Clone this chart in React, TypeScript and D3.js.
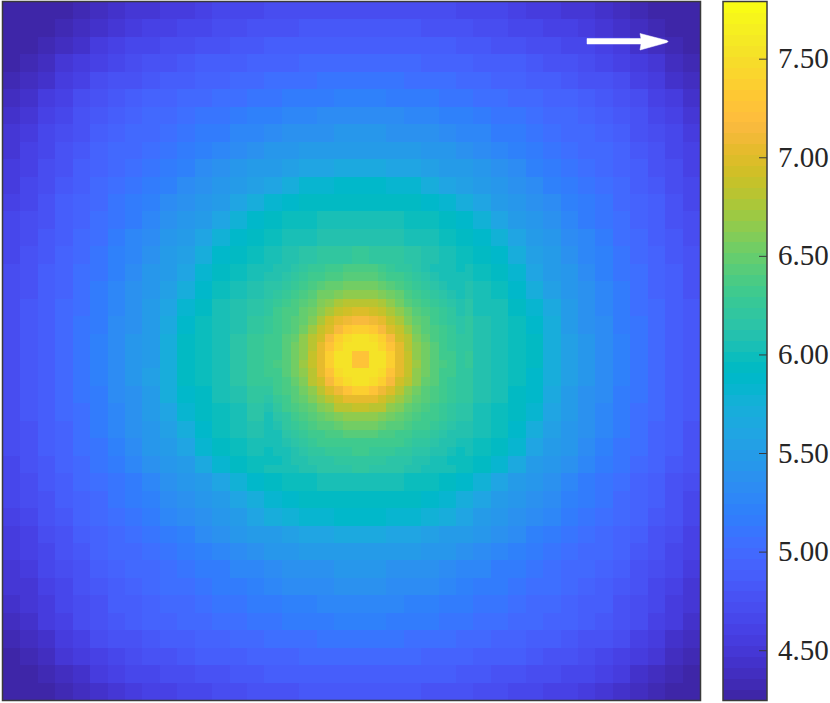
import { useEffect, useRef } from "react";
import * as d3 from "d3";

// whole field, 40 x 40 blocks, hundredths
const coarseRows = [
  [430,430,430,430,434,440,446,449,452,455,458,462,465,467,469,470,472,473,473,474,474,474,473,473,472,470,469,467,465,462,458,455,452,449,446,440,434,430,430,430],
  [430,430,430,433,440,446,451,455,459,462,466,469,471,474,476,478,479,481,481,482,482,482,481,481,479,478,476,474,471,469,466,462,459,455,451,446,440,433,430,430],
  [430,430,433,440,447,454,459,464,468,471,474,477,480,483,485,486,488,489,490,490,490,490,490,489,488,486,485,483,480,477,474,471,468,464,459,454,447,440,433,430],
  [430,433,440,448,455,461,468,472,476,480,483,487,489,491,493,495,496,498,499,500,500,500,499,498,496,495,493,491,489,487,483,480,476,472,468,461,455,448,440,433],
  [434,440,447,455,463,470,476,480,484,488,491,494,496,499,502,504,506,507,508,509,509,509,508,507,506,504,502,499,496,494,491,488,484,480,476,470,463,455,447,440],
  [440,446,454,461,470,477,483,487,492,495,498,501,505,507,510,513,516,517,519,520,520,520,519,517,516,513,510,507,505,501,498,495,492,487,483,477,470,461,454,446],
  [446,451,459,468,476,483,489,494,498,501,506,509,512,516,520,523,527,530,533,534,534,534,533,530,527,523,520,516,512,509,506,501,498,494,489,483,476,468,459,451],
  [449,455,464,472,480,487,494,498,502,507,511,515,519,525,530,535,537,540,540,542,542,542,540,540,537,535,530,525,519,515,511,507,502,498,494,487,480,472,464,455],
  [452,459,468,476,484,492,498,502,507,511,517,522,529,535,539,542,546,548,550,552,552,552,550,548,546,542,539,535,529,522,517,511,507,502,498,492,484,476,468,459],
  [455,462,471,480,488,495,501,507,511,517,523,532,537,542,547,551,555,558,563,567,568,567,563,558,555,551,547,542,537,532,523,517,511,507,501,495,488,480,471,462],
  [458,466,474,483,491,498,506,511,517,523,533,538,544,550,555,563,572,580,583,586,587,586,583,580,572,563,555,550,544,538,533,523,517,511,506,498,491,483,474,466],
  [462,469,477,487,494,501,509,515,522,532,538,545,552,558,572,582,589,592,594,595,596,595,594,592,589,582,572,558,552,545,538,532,522,515,509,501,494,487,477,469],
  [465,471,480,489,496,505,512,519,529,537,544,552,560,576,587,593,597,600,602,603,604,603,602,600,597,593,587,576,560,552,544,537,529,519,512,505,496,489,480,471],
  [467,474,483,491,499,507,516,525,535,542,550,558,576,588,594,599,603,607,610,612,613,612,610,607,603,599,594,588,576,558,550,542,535,525,516,507,499,491,483,474],
  [469,476,485,493,502,510,520,530,539,547,555,572,587,594,600,605,611,616,621,624,625,624,621,616,611,605,600,594,587,572,555,547,539,530,520,510,502,493,485,476],
  [470,478,486,495,504,513,523,535,542,551,563,582,593,599,605,612,620,628,634,638,640,638,634,628,620,612,605,599,593,582,563,551,542,535,523,513,504,495,486,478],
  [472,479,488,496,506,516,527,537,546,555,572,589,597,603,611,620,629,640,650,662,665,662,650,640,629,620,611,603,597,589,572,555,546,537,527,516,506,496,488,479],
  [473,481,489,498,507,517,530,540,548,558,585,595,602,610,618,628,640,659,677,689,695,689,677,659,640,628,616,607,602,595,585,565,548,540,530,517,507,498,489,481],
  [473,481,489,499,508,519,533,540,550,568,590,598,604,612,623,634,650,677,703,727,735,727,703,677,650,634,621,610,604,598,590,570,552,540,533,519,508,499,489,481],
  [474,482,490,500,509,520,534,542,552,572,592,600,605,614,626,638,662,689,727,741,745,741,727,689,662,638,624,612,605,600,592,574,555,542,534,520,509,500,490,482],
  [474,482,490,500,509,520,534,542,552,572,592,600,606,615,627,640,665,695,735,745,730,745,735,695,665,640,625,613,606,600,592,574,555,542,534,520,509,500,490,482],
  [474,482,490,500,509,520,534,543,553,574,592,600,605,614,626,638,662,689,727,741,745,741,727,689,662,638,624,612,605,600,590,572,554,542,534,520,509,500,490,482],
  [473,481,489,499,508,519,533,541,551,570,588,596,602,610,621,634,650,677,703,727,735,727,703,677,650,634,621,610,602,596,586,566,550,540,533,519,508,499,489,481],
  [473,481,489,498,507,517,530,540,549,562,583,594,600,607,616,628,640,659,677,689,695,689,677,659,640,628,616,607,600,592,580,558,548,540,530,517,507,498,489,481],
  [472,479,488,496,506,516,527,537,546,555,572,589,597,603,611,620,629,640,650,662,665,662,650,640,629,620,611,603,597,589,572,555,546,537,527,516,506,496,488,479],
  [470,478,486,495,504,513,523,535,542,551,563,582,593,599,605,612,620,628,634,638,640,638,634,628,620,612,605,599,593,582,563,551,542,535,523,513,504,495,486,478],
  [469,476,484,492,500,509,518,527,537,545,552,565,582,591,597,602,607,612,616,618,619,618,616,612,607,602,597,591,582,565,552,545,537,527,518,509,500,492,484,476],
  [467,474,482,490,497,505,512,519,529,537,544,552,560,576,587,593,597,600,602,603,604,603,602,600,597,593,587,576,560,552,544,537,529,519,512,505,496,489,480,471],
  [465,471,479,488,494,501,509,515,522,532,538,545,552,558,572,582,589,592,594,595,596,595,594,592,589,582,572,558,552,545,538,532,522,515,509,501,494,487,477,469],
  [462,468,476,485,492,499,507,512,519,526,535,540,546,552,560,570,578,582,585,588,588,587,585,582,578,570,560,552,546,540,535,526,519,512,507,499,492,484,475,467],
  [458,462,471,480,488,495,501,507,511,517,523,532,537,542,547,551,555,558,563,567,568,567,563,558,555,551,547,542,537,532,523,517,511,507,501,495,488,480,471,462],
  [455,459,468,476,484,492,498,502,507,511,517,522,529,535,539,542,546,548,550,552,552,552,550,548,546,542,539,535,529,522,517,511,507,502,498,492,484,476,468,459],
  [452,455,464,472,480,487,494,498,502,507,511,515,519,525,530,535,537,540,540,542,542,542,540,540,537,535,530,525,519,515,511,507,502,498,494,487,480,472,464,455],
  [449,452,460,469,477,484,490,495,499,503,507,511,515,519,524,528,531,533,535,536,536,536,535,533,531,528,524,519,515,511,507,503,499,495,490,484,477,469,460,452],
  [446,449,456,465,473,480,486,491,495,498,502,505,508,512,515,518,520,523,525,527,527,527,525,523,520,518,515,512,508,505,502,498,495,491,486,480,473,465,456,449],
  [440,446,454,461,470,477,483,487,492,495,498,501,505,507,510,513,516,517,519,520,520,520,519,517,516,513,510,507,505,501,498,495,492,487,483,477,470,461,454,446],
  [434,440,447,455,463,470,476,480,484,488,491,494,496,499,502,504,506,507,508,509,509,509,508,507,506,504,502,499,496,494,491,488,484,480,476,470,463,455,447,440],
  [430,433,440,448,455,461,468,472,476,480,483,487,489,491,493,495,496,498,499,500,500,500,499,498,496,495,493,491,489,487,483,480,476,472,468,461,455,448,440,433],
  [430,430,433,440,447,454,459,464,468,471,474,477,480,483,485,486,488,489,490,490,490,490,490,489,488,486,485,483,480,477,474,471,468,464,459,454,447,440,433,430],
  [430,430,430,433,440,446,451,455,459,462,466,469,471,474,476,478,479,481,481,482,482,482,481,481,479,478,476,474,471,469,466,462,459,455,451,446,440,433,430,430],
];

// fine blocks around the peak (columns and rows 30 to 52 of 80)
const coreStart = 30;
const coreRows = [
  [607,610,613,617,621,625,627,630,635,637,638,638,637,633,628,624,619,614,610,607,605,603,601],
  [610,613,617,620,625,630,634,638,640,642,643,643,642,638,635,630,625,620,614,610,606,604,602],
  [614,618,622,627,632,638,644,648,650,652,653,653,652,648,644,638,632,626,620,615,610,607,604],
  [616,621,627,633,638,645,652,657,661,664,665,665,664,660,655,648,640,633,627,620,614,610,607],
  [620,626,632,637,643,650,658,668,676,680,683,683,680,675,665,655,645,637,631,626,620,614,609],
  [624,630,636,640,648,655,665,676,690,694,698,698,694,688,676,665,653,644,636,631,625,619,613],
  [627,632,636,643,651,662,675,692,704,712,715,715,712,703,690,674,662,650,641,634,629,622,615],
  [627,633,638,646,656,670,686,700,716,731,737,737,731,715,700,685,669,656,645,637,632,625,618],
  [630,635,642,650,663,680,695,715,738,748,754,754,748,737,715,696,680,662,649,640,633,628,620],
  [631,635,643,652,665,684,702,728,745,756,755,755,756,745,728,702,684,665,652,642,634,629,622],
  [630,635,643,653,668,688,705,735,752,755,727,727,755,752,735,705,688,668,653,643,635,630,622],
  [630,636,643,654,669,689,706,736,753,756,727,727,756,752,736,706,689,669,654,643,636,630,622],
  [630,635,642,652,665,684,702,728,746,756,756,756,756,746,728,703,685,666,652,642,635,630,623],
  [627,633,640,649,662,680,695,714,736,746,753,753,746,736,714,696,680,663,650,641,634,629,622],
  [622,630,636,645,655,668,684,698,712,728,735,735,728,712,698,684,668,656,646,638,633,627,620],
  [618,627,634,641,649,660,670,684,695,702,705,705,702,695,684,670,660,650,642,636,632,626,620],
  [612,622,630,636,643,650,660,668,680,684,688,688,684,680,668,660,650,644,638,634,629,624,618],
  [607,616,624,632,637,643,649,655,662,665,668,668,665,662,655,649,643,638,634,631,625,620,615],
  [605,612,619,625,632,636,641,645,649,652,653,653,652,649,645,641,636,633,631,626,621,616,612],
  [604,607,614,620,628,632,634,637,640,642,643,643,642,640,637,634,632,629,625,621,618,613,608],
  [602,606,610,617,622,626,630,632,633,634,635,635,634,633,632,630,626,623,619,617,613,609,604],
  [600,604,606,612,616,620,623,625,628,629,630,630,629,628,625,623,620,617,614,612,608,605,601],
  [598,601,603,608,611,614,616,618,620,622,622,622,622,620,618,616,614,612,610,607,604,601,597],
];

const colorTicks = [4.5, 5, 5.5, 6, 6.5, 7, 7.5];

const parula = [
  [0.2422,0.1504,0.6603],[0.2504,0.165,0.7076],[0.2578,0.1818,0.7511],[0.2647,0.1978,0.7952],
  [0.2706,0.2147,0.8364],[0.2751,0.2342,0.871],[0.2783,0.2559,0.8991],[0.2803,0.2782,0.9221],
  [0.2813,0.3006,0.9414],[0.281,0.3228,0.9579],[0.2795,0.3447,0.9717],[0.276,0.3667,0.9829],
  [0.2699,0.3892,0.9906],[0.2602,0.4123,0.9952],[0.244,0.4358,0.9988],[0.2206,0.4603,0.9973],
  [0.1963,0.4847,0.9892],[0.1834,0.5074,0.9798],[0.1786,0.5289,0.9682],[0.1764,0.5499,0.952],
  [0.1687,0.5703,0.9359],[0.154,0.5902,0.9218],[0.146,0.6091,0.9079],[0.138,0.6276,0.8973],
  [0.1248,0.6459,0.8883],[0.1113,0.6635,0.8763],[0.0952,0.6798,0.8598],[0.0689,0.6948,0.8394],
  [0.0297,0.7082,0.8163],[0.0036,0.7203,0.7917],[0.0067,0.7312,0.766],[0.0433,0.7411,0.7394],
  [0.0964,0.75,0.712],[0.1408,0.7584,0.6842],[0.1717,0.767,0.6554],[0.1938,0.7758,0.6251],
  [0.2161,0.7843,0.5923],[0.247,0.7918,0.5567],[0.2906,0.7973,0.5188],[0.3406,0.8008,0.4789],
  [0.3909,0.8029,0.4354],[0.4456,0.8024,0.3909],[0.5044,0.7993,0.348],[0.5616,0.7942,0.3045],
  [0.6174,0.7876,0.2612],[0.672,0.7793,0.2227],[0.7242,0.7698,0.191],[0.7738,0.7598,0.1646],
  [0.8203,0.7498,0.1535],[0.8634,0.7406,0.1596],[0.9035,0.733,0.1774],[0.9393,0.7288,0.21],
  [0.9728,0.7298,0.2394],[0.9956,0.7434,0.2371],[0.997,0.7659,0.2199],[0.9952,0.7861,0.1999],
  [0.9892,0.8136,0.1885],[0.9786,0.8386,0.1766],[0.9676,0.8639,0.1643],[0.961,0.889,0.1537],
  [0.9597,0.9135,0.1423],[0.9628,0.9373,0.1265],[0.9691,0.9606,0.1064],[0.9769,0.9839,0.0805],
].map(([r, g, b]) => d3.rgb(r * 255, g * 255, b * 255).formatHex());

const VMIN = 4.25;
const VMAX = 7.79;
const FRAME = "#3a3a3a";

const App = () => {
  const svgRef = useRef<SVGSVGElement>(null);

  useEffect(() => {
    const svg = d3.select(svgRef.current);
    svg.selectAll("*").remove();

    const color = d3.scaleQuantize<string>().domain([VMIN, VMAX]).range(parula);
    const plot = svg.append("g").attr("shape-rendering", "crispEdges");

    const coarse = d3.scaleBand<number>().domain(d3.range(40)).range([3, 700]);
    const coarseY = d3.scaleBand<number>().domain(d3.range(40)).range([2, 700]);
    const fine = d3.scaleBand<number>().domain(d3.range(80)).range([3, 700]);
    const fineY = d3.scaleBand<number>().domain(d3.range(80)).range([2, 700]);

    coarseRows.forEach((row, r) => {
      plot
        .append("g")
        .selectAll("rect")
        .data(row)
        .join("rect")
        .attr("x", (_, c) => coarse(c)!)
        .attr("y", coarseY(r)!)
        .attr("width", coarse.bandwidth() + 0.5)
        .attr("height", coarseY.bandwidth() + 0.5)
        .attr("fill", (v) => color(v / 100));
    });

    coreRows.forEach((row, r) => {
      plot
        .append("g")
        .selectAll("rect")
        .data(row)
        .join("rect")
        .attr("x", (_, c) => fine(c + coreStart)!)
        .attr("y", fineY(r + coreStart)!)
        .attr("width", fine.bandwidth() + 0.5)
        .attr("height", fineY.bandwidth() + 0.5)
        .attr("fill", (v) => color(v / 100));
    });

    svg
      .append("rect")
      .attr("x", 2.5)
      .attr("y", 1.5)
      .attr("width", 698)
      .attr("height", 699)
      .attr("fill", "none")
      .attr("stroke", FRAME)
      .attr("stroke-width", 1.5);

    // arrow
    svg
      .append("path")
      .attr("d", "M587 38.5H641L640 33.5L667 40.5Q669 41.5 667 42.5L640 50L641 44H587Z")
      .attr("fill", "#fff")
      .attr("stroke", "#fff")
      .attr("stroke-width", 0.5)
      .attr("stroke-linejoin", "round");

    // colour bar
    const barY = d3.scaleLinear().domain([VMIN, VMAX]).range([700, 2]);
    svg
      .append("g")
      .attr("shape-rendering", "crispEdges")
      .selectAll("rect")
      .data(parula)
      .join("rect")
      .attr("x", 723)
      .attr("width", 44)
      .attr("y", (c) => barY(color.invertExtent(c)[1]))
      .attr("height", (c) => barY(color.invertExtent(c)[0]) - barY(color.invertExtent(c)[1]) + 0.5)
      .attr("fill", (c) => c);

    svg
      .append("rect")
      .attr("x", 723)
      .attr("y", 1.5)
      .attr("width", 44)
      .attr("height", 699)
      .attr("fill", "none")
      .attr("stroke", FRAME)
      .attr("stroke-width", 1.5);

    const ticks = svg.append("g").selectAll("g").data(colorTicks).join("g");
    ticks
      .append("line")
      .attr("x1", 759)
      .attr("x2", 767)
      .attr("y1", (d) => barY(d))
      .attr("y2", (d) => barY(d))
      .attr("stroke", FRAME)
      .attr("stroke-width", 1);
    ticks
      .append("text")
      .attr("x", 778)
      .attr("y", (d) => barY(d) + 9)
      .attr("font-family", "'Liberation Serif', serif")
      .attr("font-size", 29)
      .attr("fill", "#262626")
      .text((d) => d3.format(".2f")(d));
  }, []);

  return (
    <svg
      ref={svgRef}
      width={830}
      height={703}
      style={{ position: "absolute", left: 0, top: 0 }}
    />
  );
};

export default App;
